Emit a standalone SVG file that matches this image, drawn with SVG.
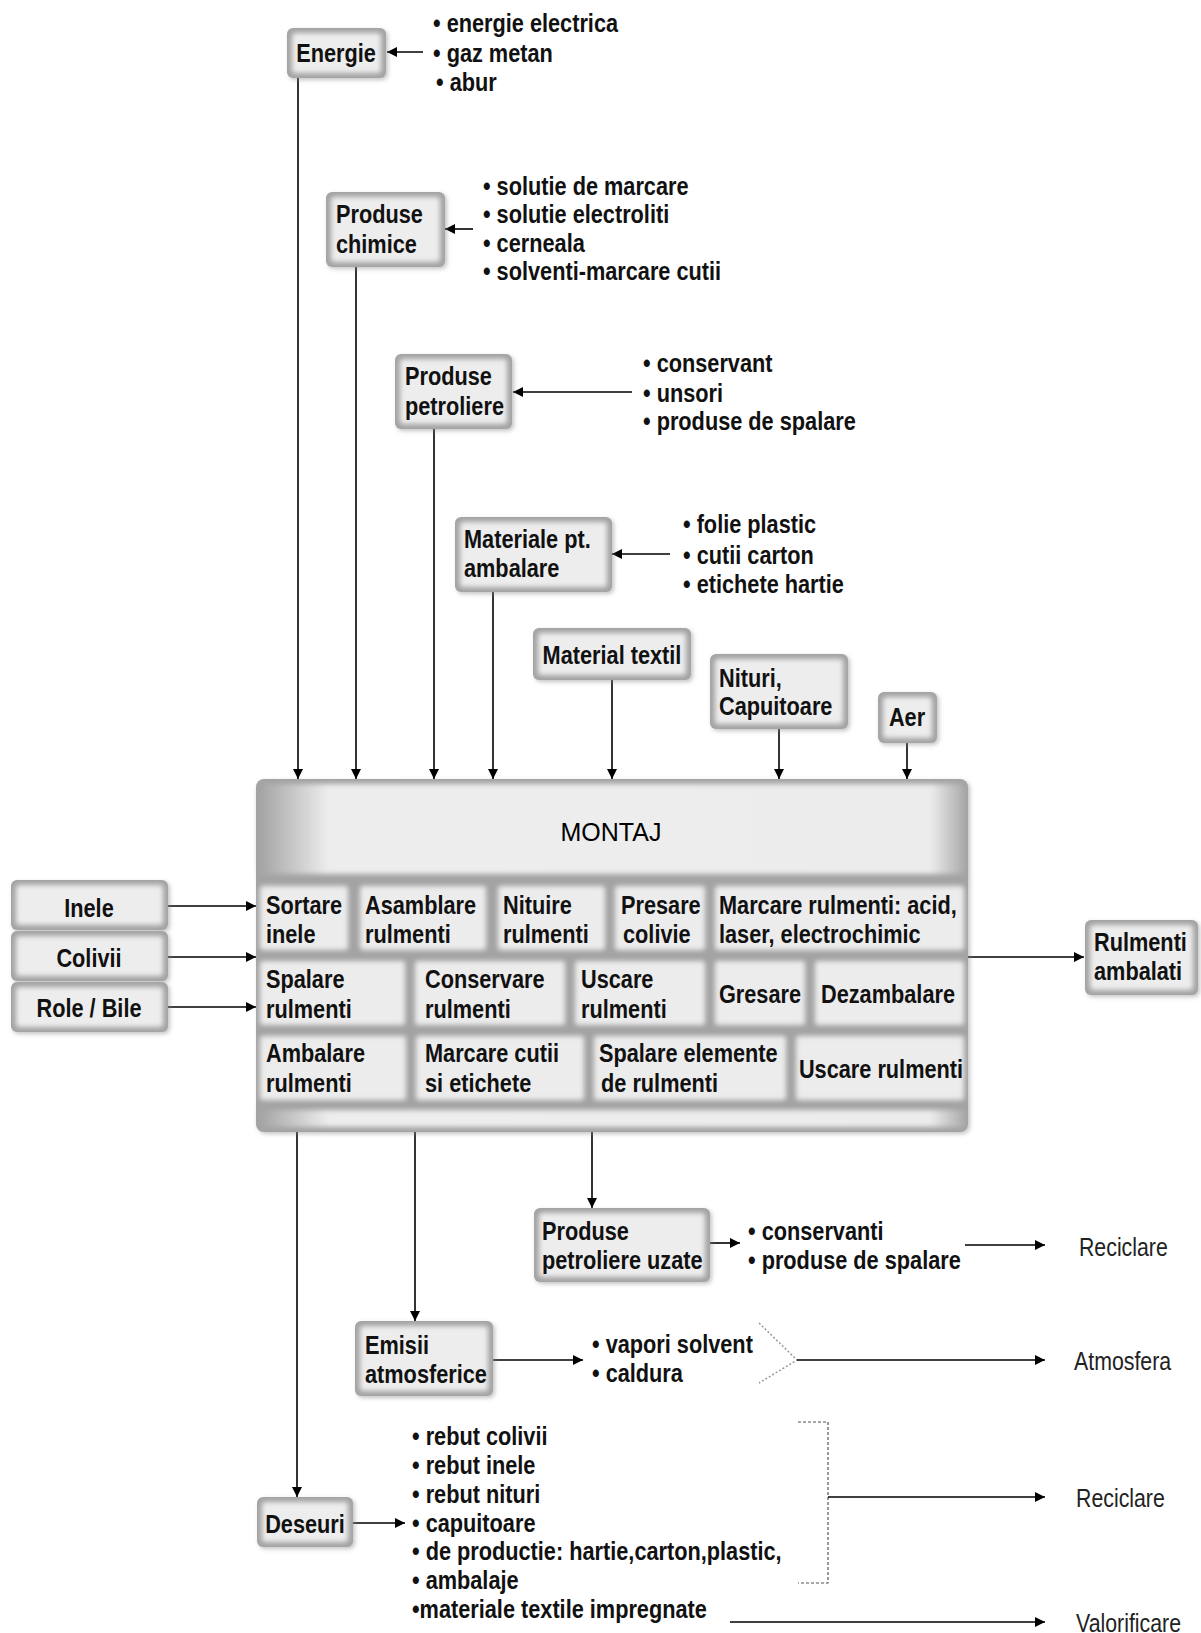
<svg xmlns="http://www.w3.org/2000/svg" width="1201" height="1633" viewBox="0 0 1201 1633">
<defs>
<style>
.t{font-family:"Liberation Sans",Arial,sans-serif;font-weight:bold;font-size:26.5px;fill:#111;transform-box:view-box;transform-origin:0 0;transform:scaleX(0.82)}
.c{text-anchor:middle}
.r{font-family:"Liberation Sans",Arial,sans-serif;font-size:26px;fill:#222;transform-box:view-box;transform-origin:0 0;transform:scaleX(0.82)}
.m{font-family:"Liberation Sans",Arial,sans-serif;font-size:25px;fill:#000;text-anchor:middle}
.bx{fill:#a3a3a3;filter:url(#sh)}
.in{fill:#ededed;filter:url(#bl)}
.cell{fill:#ececec;filter:url(#bl)}
.ln{stroke:#000;stroke-width:1.6;fill:none}
.ar{marker-end:url(#ah)}
.dash{stroke:#555;stroke-width:1.2;fill:none;stroke-dasharray:3 2}
.dot{stroke:#999;stroke-width:1.5;fill:none;stroke-dasharray:2 2}
</style>
<linearGradient id="hg" gradientUnits="userSpaceOnUse" x1="258" y1="0" x2="966" y2="0">
<stop offset="0" stop-color="#a2a2a2"/><stop offset="0.1" stop-color="#ededed"/><stop offset="0.95" stop-color="#ececec"/><stop offset="1" stop-color="#a8a8a8"/>
</linearGradient>
<filter id="bl" x="-10%" y="-20%" width="120%" height="140%"><feGaussianBlur stdDeviation="2.5"/></filter>
<filter id="sh" x="-10%" y="-10%" width="125%" height="130%"><feDropShadow dx="2" dy="2" stdDeviation="2" flood-color="#888" flood-opacity="0.5"/></filter>
<marker id="ah" viewBox="0 0 10 10" refX="10" refY="5" markerWidth="10" markerHeight="10" markerUnits="userSpaceOnUse" orient="auto"><path d="M0,0 L10,5 L0,10 z" fill="#000"/></marker>
</defs>
<rect width="1201" height="1633" fill="#fff"/>

<g id="connectors">
<line class="ln ar" x1="298" y1="78" x2="298" y2="779"/>
<line class="ln ar" x1="356" y1="267" x2="356" y2="779"/>
<line class="ln ar" x1="434" y1="429" x2="434" y2="779"/>
<line class="ln ar" x1="493" y1="592" x2="493" y2="779"/>
<line class="ln ar" x1="612" y1="680" x2="612" y2="779"/>
<line class="ln ar" x1="779" y1="729" x2="779" y2="779"/>
<line class="ln ar" x1="907" y1="743" x2="907" y2="779"/>
<line class="ln ar" x1="423" y1="52" x2="387" y2="52"/>
<line class="ln ar" x1="473" y1="229" x2="445" y2="229"/>
<line class="ln ar" x1="632" y1="392" x2="513" y2="392"/>
<line class="ln ar" x1="670" y1="554" x2="612" y2="554"/>
<line class="ln ar" x1="168" y1="906" x2="256" y2="906"/>
<line class="ln ar" x1="168" y1="957" x2="256" y2="957"/>
<line class="ln ar" x1="168" y1="1007" x2="256" y2="1007"/>
<line class="ln ar" x1="968" y1="957" x2="1084" y2="957"/>
<line class="ln ar" x1="297" y1="1132" x2="297" y2="1497"/>
<line class="ln ar" x1="415" y1="1132" x2="415" y2="1321"/>
<line class="ln ar" x1="592" y1="1132" x2="592" y2="1208"/>
<line class="ln ar" x1="710" y1="1243" x2="740" y2="1243"/>
<line class="ln ar" x1="965" y1="1245" x2="1045" y2="1245"/>
<line class="ln ar" x1="493" y1="1360" x2="583" y2="1360"/>
<polyline class="dot" points="759,1323 797,1360 759,1383"/>
<line class="ln ar" x1="797" y1="1360" x2="1045" y2="1360"/>
<line class="ln ar" x1="353" y1="1523" x2="405" y2="1523"/>
<polyline class="dash" points="798,1422 828,1422 828,1583 798,1583"/>
<line class="ln ar" x1="828" y1="1497" x2="1045" y2="1497"/>
<line class="ln ar" x1="730" y1="1622" x2="1045" y2="1622"/>
</g>

<g id="energie">
<rect class="bx" x="287" y="28" width="99" height="50" rx="6"/>
<rect class="in" x="292" y="33" width="89" height="40" rx="3"/>
<text class="t c" x="409.76" y="62">Energie</text>
</g>
<g id="energie-list">
<text class="t" x="528.05" y="32">• energie electrica</text>
<text class="t" x="528.05" y="62">• gaz metan</text>
<text class="t" x="531.71" y="91">• abur</text>
</g>

<g id="produse-chimice">
<rect class="bx" x="326" y="192" width="119" height="75" rx="6"/>
<rect class="in" x="331" y="197" width="109" height="65" rx="3"/>
<text class="t" x="409.76" y="223">Produse</text>
<text class="t" x="409.76" y="253">chimice</text>
</g>
<g id="chimice-list">
<text class="t" x="589.02" y="195">• solutie de marcare</text>
<text class="t" x="589.02" y="223">• solutie electroliti</text>
<text class="t" x="589.02" y="252">• cerneala</text>
<text class="t" x="589.02" y="280">• solventi-marcare cutii</text>
</g>

<g id="produse-petroliere">
<rect class="bx" x="395" y="354" width="117" height="75" rx="6"/>
<rect class="in" x="400" y="359" width="107" height="65" rx="3"/>
<text class="t" x="493.90" y="385">Produse</text>
<text class="t" x="493.90" y="415">petroliere</text>
</g>
<g id="petroliere-list">
<text class="t" x="784.15" y="372">• conservant</text>
<text class="t" x="784.15" y="402">• unsori</text>
<text class="t" x="784.15" y="430">• produse de spalare</text>
</g>

<g id="materiale-ambalare">
<rect class="bx" x="455" y="517" width="157" height="75" rx="6"/>
<rect class="in" x="460" y="522" width="147" height="65" rx="3"/>
<text class="t" x="565.85" y="548">Materiale pt.</text>
<text class="t" x="565.85" y="577">ambalare</text>
</g>
<g id="ambalare-list">
<text class="t" x="832.93" y="533">• folie plastic</text>
<text class="t" x="832.93" y="564">• cutii carton</text>
<text class="t" x="832.93" y="593">• etichete hartie</text>
</g>

<g id="material-textil">
<rect class="bx" x="533" y="628" width="158" height="52" rx="6"/>
<rect class="in" x="538" y="633" width="148" height="42" rx="3"/>
<text class="t c" x="746.34" y="664">Material textil</text>
</g>

<g id="nituri">
<rect class="bx" x="710" y="654" width="138" height="75" rx="6"/>
<rect class="in" x="715" y="659" width="128" height="65" rx="3"/>
<text class="t" x="876.83" y="687">Nituri,</text>
<text class="t" x="876.83" y="715">Capuitoare</text>
</g>

<g id="aer">
<rect class="bx" x="878" y="692" width="59" height="51" rx="6"/>
<rect class="in" x="883" y="697" width="49" height="41" rx="3"/>
<text class="t c" x="1106.10" y="726">Aer</text>
</g>

<g id="montaj">
<rect class="bx" x="256" y="779" width="712" height="353" rx="8"/>
<rect x="259" y="784" width="706" height="90" rx="5" fill="url(#hg)" filter="url(#bl)"/>
<text class="m" x="611" y="841">MONTAJ</text>
<rect class="cell" x="260" y="886" width="88" height="64" rx="3"/>
<rect class="cell" x="360" y="886" width="126" height="64" rx="3"/>
<rect class="cell" x="498" y="886" width="107" height="64" rx="3"/>
<rect class="cell" x="615" y="886" width="90" height="64" rx="3"/>
<rect class="cell" x="715" y="886" width="249" height="64" rx="3"/>
<rect class="cell" x="260" y="961" width="145" height="64" rx="3"/>
<rect class="cell" x="415" y="961" width="150" height="64" rx="3"/>
<rect class="cell" x="575" y="961" width="130" height="64" rx="3"/>
<rect class="cell" x="715" y="961" width="90" height="64" rx="3"/>
<rect class="cell" x="815" y="961" width="149" height="64" rx="3"/>
<rect class="cell" x="260" y="1036" width="146" height="64" rx="3"/>
<rect class="cell" x="416" y="1036" width="168" height="64" rx="3"/>
<rect class="cell" x="594" y="1036" width="192" height="64" rx="3"/>
<rect class="cell" x="796" y="1036" width="168" height="64" rx="3"/>
<rect x="259" y="1110" width="706" height="17" rx="3" fill="url(#hg)" filter="url(#bl)"/>
<text class="t" x="324.39" y="914">Sortare</text>
<text class="t" x="324.39" y="943">inele</text>
<text class="t" x="445.12" y="914">Asamblare</text>
<text class="t" x="445.12" y="943">rulmenti</text>
<text class="t" x="613.41" y="914">Nituire</text>
<text class="t" x="613.41" y="943">rulmenti</text>
<text class="t" x="757.32" y="914">Presare</text>
<text class="t" x="759.76" y="943">colivie</text>
<text class="t" x="876.83" y="914">Marcare rulmenti: acid,</text>
<text class="t" x="876.83" y="943">laser, electrochimic</text>
<text class="t" x="324.39" y="988">Spalare</text>
<text class="t" x="324.39" y="1018">rulmenti</text>
<text class="t" x="518.29" y="988">Conservare</text>
<text class="t" x="518.29" y="1018">rulmenti</text>
<text class="t" x="708.54" y="988">Uscare</text>
<text class="t" x="708.54" y="1018">rulmenti</text>
<text class="t c" x="926.83" y="1003">Gresare</text>
<text class="t c" x="1082.93" y="1003">Dezambalare</text>
<text class="t" x="324.39" y="1062">Ambalare</text>
<text class="t" x="324.39" y="1092">rulmenti</text>
<text class="t" x="518.29" y="1062">Marcare cutii</text>
<text class="t" x="518.29" y="1092">si etichete</text>
<text class="t" x="730.49" y="1062">Spalare elemente</text>
<text class="t" x="732.93" y="1092">de rulmenti</text>
<text class="t c" x="1074.39" y="1078">Uscare rulmenti</text>
</g>

<g id="inele">
<rect class="bx" x="11" y="880" width="157" height="50" rx="6"/>
<rect class="in" x="16" y="885" width="147" height="40" rx="3"/>
<text class="t c" x="108.54" y="917">Inele</text>
</g>
<g id="colivii">
<rect class="bx" x="11" y="931" width="157" height="50" rx="6"/>
<rect class="in" x="16" y="936" width="147" height="40" rx="3"/>
<text class="t c" x="108.54" y="967">Colivii</text>
</g>
<g id="role-bile">
<rect class="bx" x="11" y="982" width="157" height="50" rx="6"/>
<rect class="in" x="16" y="987" width="147" height="40" rx="3"/>
<text class="t c" x="108.54" y="1017">Role / Bile</text>
</g>

<g id="rulmenti-ambalati">
<rect class="bx" x="1085" y="920" width="113" height="75" rx="6"/>
<rect class="in" x="1090" y="925" width="103" height="65" rx="3"/>
<text class="t" x="1334.15" y="951">Rulmenti</text>
<text class="t" x="1334.15" y="980">ambalati</text>
</g>

<g id="produse-uzate">
<rect class="bx" x="534" y="1208" width="176" height="74" rx="6"/>
<rect class="in" x="539" y="1213" width="166" height="64" rx="3"/>
<text class="t" x="660.98" y="1240">Produse</text>
<text class="t" x="660.98" y="1269">petroliere uzate</text>
</g>
<g id="uzate-list">
<text class="t" x="912.20" y="1240">• conservanti</text>
<text class="t" x="912.20" y="1269">• produse de spalare</text>
</g>
<text class="r" x="1315.85" y="1256">Reciclare</text>

<g id="emisii">
<rect class="bx" x="355" y="1321" width="138" height="75" rx="6"/>
<rect class="in" x="360" y="1326" width="128" height="65" rx="3"/>
<text class="t" x="445.12" y="1354">Emisii</text>
<text class="t" x="445.12" y="1383">atmosferice</text>
</g>
<g id="emisii-list">
<text class="t" x="721.95" y="1353">• vapori solvent</text>
<text class="t" x="721.95" y="1382">• caldura</text>
</g>
<text class="r" x="1309.76" y="1370">Atmosfera</text>

<g id="deseuri">
<rect class="bx" x="257" y="1497" width="96" height="50" rx="6"/>
<rect class="in" x="262" y="1502" width="86" height="40" rx="3"/>
<text class="t c" x="371.95" y="1533">Deseuri</text>
</g>
<g id="deseuri-list">
<text class="t" x="502.44" y="1445">• rebut colivii</text>
<text class="t" x="502.44" y="1474">• rebut inele</text>
<text class="t" x="502.44" y="1503">• rebut nituri</text>
<text class="t" x="502.44" y="1532">• capuitoare</text>
<text class="t" x="502.44" y="1560">• de productie: hartie,carton,plastic,</text>
<text class="t" x="502.44" y="1589">• ambalaje</text>
<text class="t" x="502.44" y="1618">•materiale textile impregnate</text>
</g>
<text class="r" x="1312.20" y="1507">Reciclare</text>
<text class="r" x="1312.20" y="1632">Valorificare</text>
</svg>
